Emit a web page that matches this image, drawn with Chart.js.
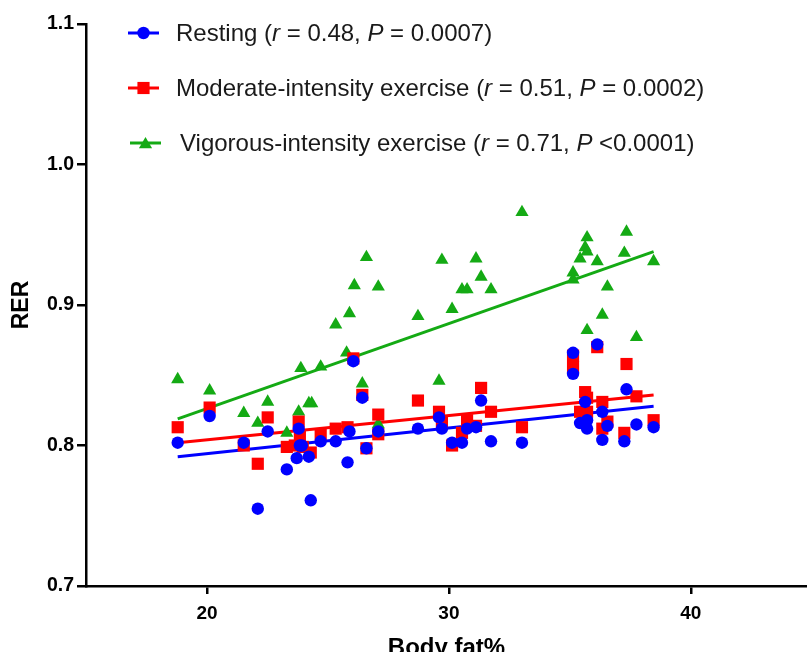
<!DOCTYPE html>
<html><head><meta charset="utf-8">
<script src="https://cdn.jsdelivr.net/npm/chart.js@4.4.1/dist/chart.umd.min.js"></script>
<style>html,body{margin:0;padding:0;background:#fff;}#wrap{width:807px;height:652px;position:relative;}</style>
</head><body><div id="wrap"><canvas id="c" width="807" height="652"></canvas></div>
<script>
// ---- data ----
const xAxisTitle = "Body fat%";
const yAxisTitle = "RER";
const xTicks = [20, 30, 40];
const yTicks = [0.7, 0.8, 0.9, 1.0, 1.1];

const seriesNames = ["Resting", "Moderate-intensity exercise", "Vigorous-intensity exercise"];
const seriesR = ["0.48", "0.51", "0.71"];
const seriesP = ["= 0.0007", "= 0.0002", "<0.0001"];

const restingX = [18.79,20.11,21.52,22.51,22.10,23.30,23.71,23.79,23.84,23.92,24.21,24.29,24.70,25.32,25.81,25.89,26.05,26.42,26.59,27.08,28.72,29.59,29.71,30.13,30.54,30.75,31.12,31.33,31.74,33.02,35.13,35.13,36.13,35.63,36.34,35.42,35.71,35.71,36.55,36.34,37.34,37.75,37.25,38.46];
const restingY = [0.802,0.821,0.802,0.810,0.755,0.783,0.791,0.812,0.800,0.800,0.792,0.761,0.803,0.803,0.788,0.810,0.860,0.834,0.798,0.810,0.812,0.820,0.812,0.802,0.802,0.812,0.813,0.832,0.803,0.802,0.866,0.851,0.872,0.831,0.824,0.816,0.818,0.812,0.814,0.804,0.840,0.815,0.803,0.813];

const moderateX = [18.79,20.11,21.52,22.51,22.10,23.30,23.63,23.79,23.84,23.96,24.29,24.70,25.32,25.81,26.05,26.42,26.59,27.08,27.08,28.72,29.59,29.71,30.13,30.54,30.75,31.12,31.33,31.74,33.02,35.13,35.13,36.13,35.63,35.71,35.42,35.71,36.34,36.55,36.34,37.34,37.75,37.25,38.46];
const moderateY = [0.813,0.827,0.800,0.820,0.787,0.799,0.800,0.817,0.806,0.799,0.795,0.808,0.812,0.813,0.862,0.836,0.798,0.822,0.808,0.832,0.824,0.816,0.800,0.809,0.818,0.814,0.841,0.824,0.813,0.864,0.856,0.870,0.838,0.834,0.824,0.824,0.831,0.817,0.812,0.858,0.835,0.809,0.818];

const vigorousX = [18.79,20.11,21.52,22.51,22.10,23.30,23.79,24.21,24.33,23.88,24.70,25.77,25.32,25.89,26.09,26.59,27.08,26.42,27.08,28.72,29.59,29.71,30.13,30.54,30.75,31.12,31.33,31.74,33.02,35.13,35.13,35.42,35.63,35.71,35.71,36.13,36.34,36.55,35.71,37.25,37.34,37.75,38.46];
const vigorousY = [0.847,0.839,0.823,0.831,0.816,0.809,0.824,0.830,0.830,0.855,0.856,0.866,0.886,0.894,0.914,0.934,0.913,0.844,0.815,0.892,0.846,0.932,0.897,0.911,0.911,0.933,0.920,0.911,0.966,0.923,0.918,0.933,0.941,0.948,0.938,0.931,0.893,0.913,0.882,0.937,0.952,0.877,0.931];

// regression line end points (x range and fitted y at each end)
const fitX = [18.79, 38.46];
const restingFit = [0.792, 0.828];
const moderateFit = [0.802, 0.836];
const vigorousFit = [0.819, 0.938];

// ---- chart ----
const colors = ["#0000FF", "#FF0000", "#14AA14"];
const styles = ["circle", "rect", "triangle"];
const radii = [6.2, 8.6, 7.6];
const pts = (xs, ys) => xs.map((x, i) => ({x: x, y: ys[i]}));

const pointSets = [pts(restingX, restingY), pts(moderateX, moderateY), pts(vigorousX, vigorousY)];
const fitSets = [pts(fitX, restingFit), pts(fitX, moderateFit), pts(fitX, vigorousFit)];

const datasets = [];
pointSets.forEach((d, i) => datasets.push({
  label: seriesNames[i], data: d, showLine: false,
  pointStyle: styles[i], pointRadius: radii[i], pointHoverRadius: radii[i],
  backgroundColor: colors[i], borderColor: colors[i], pointBorderWidth: 0
}));
fitSets.forEach((d, i) => datasets.push({
  label: seriesNames[i] + " fit", data: d, showLine: true, pointRadius: 0,
  borderColor: colors[i], borderWidth: 3, backgroundColor: colors[i]
}));

function drawMarker(ctx, style, x, y, r) {
  ctx.beginPath();
  if (style === "circle") ctx.arc(x, y, r, 0, Math.PI * 2);
  else if (style === "rect") { const s = r * Math.SQRT1_2; ctx.rect(x - s, y - s, 2 * s, 2 * s); }
  else { for (let k = 0; k < 3; k++) { const a = k * 2 * Math.PI / 3; const px = x + Math.sin(a) * r, py = y - Math.cos(a) * r; k ? ctx.lineTo(px, py) : ctx.moveTo(px, py); } ctx.closePath(); }
  ctx.fill();
}

const legendPlugin = {
  id: "customLegend",
  afterDraw(chart) {
    const ctx = chart.ctx;
    const rows = [33, 88, 143];
    const lineX = [[128, 159], [128, 159], [130, 161]];
    const textX = [176, 176, 180];
    const fs = 24;
    ctx.save();
    seriesNames.forEach((name, i) => {
      const y = rows[i];
      ctx.strokeStyle = colors[i]; ctx.fillStyle = colors[i]; ctx.lineWidth = 3;
      ctx.beginPath(); ctx.moveTo(lineX[i][0], y); ctx.lineTo(lineX[i][1], y); ctx.stroke();
      drawMarker(ctx, styles[i], (lineX[i][0] + lineX[i][1]) / 2, y + (styles[i] === "triangle" ? 1.5 : 0), radii[i]);
      const segs = [[name + " (", false], ["r", true], [" = " + seriesR[i] + ", ", false], ["P", true], [" " + seriesP[i] + ")", false]];
      let x = textX[i];
      ctx.fillStyle = "#1a1a1a"; ctx.textBaseline = "middle"; ctx.textAlign = "left";
      segs.forEach(([t, it]) => {
        ctx.font = (it ? "italic " : "") + fs + "px 'Liberation Sans', Arial, sans-serif";
        ctx.fillText(t, x, y + 1);
        x += ctx.measureText(t).width;
      });
    });
    ctx.restore();
  }
};

new Chart(document.getElementById("c"), {
  type: "scatter",
  data: {datasets: datasets},
  plugins: [legendPlugin],
  options: {
    responsive: false, animation: false,
    layout: {autoPadding: false, padding: {top: 24, right: 0, left: 0, bottom: 0}},
    plugins: {legend: {display: false}, tooltip: {enabled: false}},
    scales: {
      x: {
        type: "linear", min: 15, max: 44.8,
        afterFit: s => { s.height = 66; },
        afterBuildTicks: s => { s.ticks = xTicks.map(v => ({value: v})); },
        grid: {display: true, drawOnChartArea: false, drawTicks: true, tickLength: 8, color: "#000", lineWidth: 2.5},
        border: {display: true, color: "#000", width: 2.5},
        ticks: {color: "#000", padding: 8, font: {family: "'Liberation Sans', Arial, sans-serif", size: 19, weight: "bold"}, callback: v => String(v)},
        title: {display: true, text: xAxisTitle, color: "#000", padding: {top: 0, bottom: -11}, font: {family: "'Liberation Sans', Arial, sans-serif", size: 24, weight: "bold"}}
      },
      y: {
        type: "linear", min: 0.7, max: 1.1,
        afterFit: s => { s.width = 86; },
        afterBuildTicks: s => { s.ticks = yTicks.map(v => ({value: v})); },
        grid: {display: true, drawOnChartArea: false, drawTicks: true, tickLength: 9, color: "#000", lineWidth: 2.5},
        border: {display: true, color: "#000", width: 2.5},
        ticks: {color: "#000", padding: 3, font: {family: "'Liberation Sans', Arial, sans-serif", size: 19.5, weight: "bold"}, callback: v => Number(v).toFixed(1)},
        title: {display: true, text: yAxisTitle, color: "#000", padding: {top: 8, bottom: 0}, font: {family: "'Liberation Sans', Arial, sans-serif", size: 23, weight: "bold"}}
      }
    }
  }
});
</script></body></html>
